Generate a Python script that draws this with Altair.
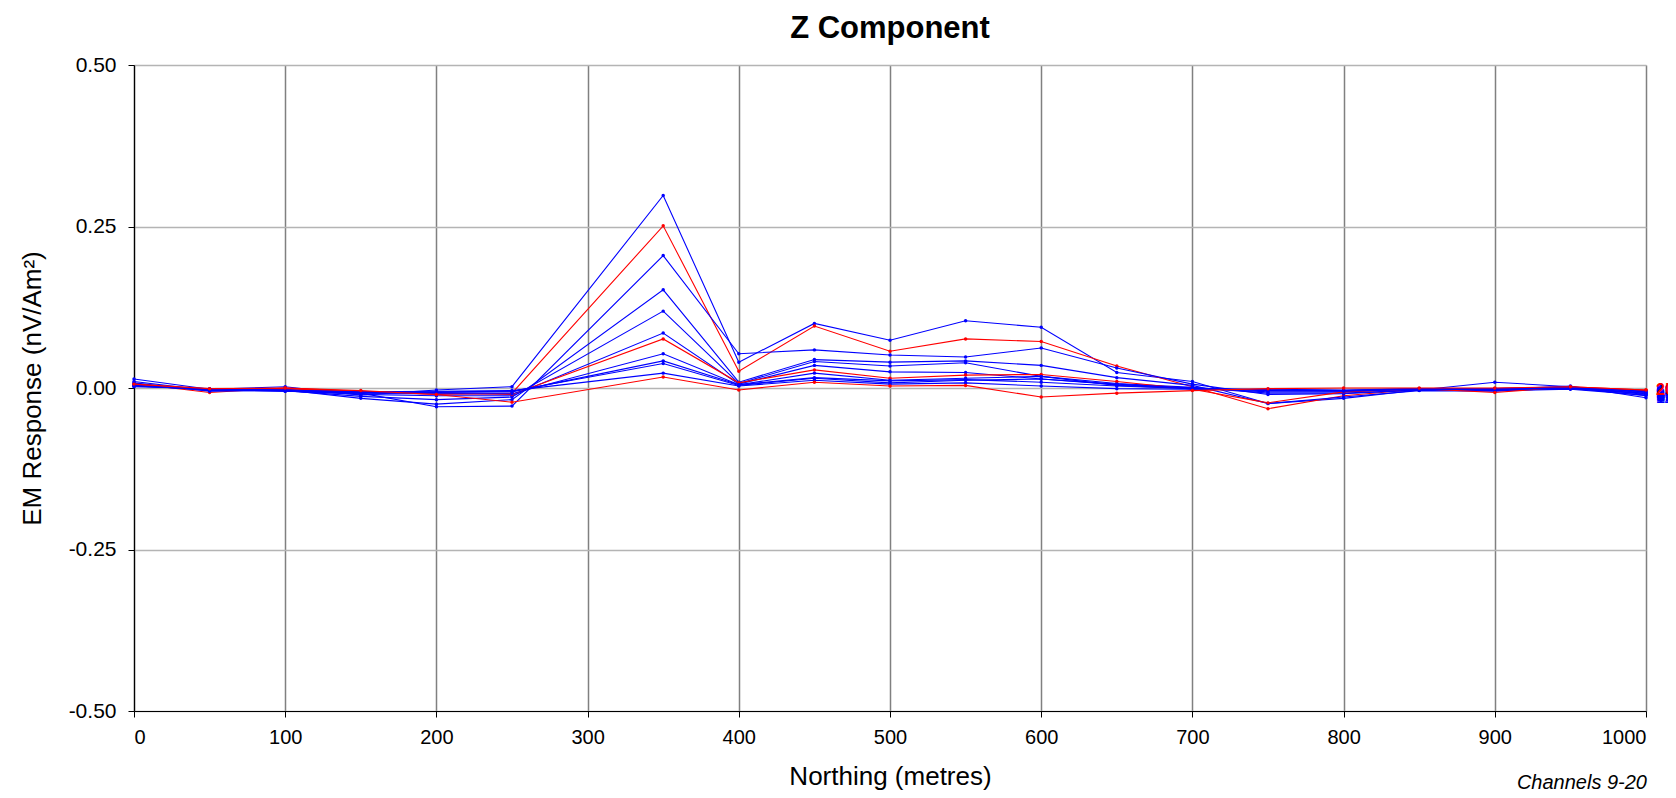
import altair as alt
import pandas as pd

northing = [0, 50, 100, 150, 200, 250, 350, 400, 450, 500, 550, 600, 650, 700, 750, 800, 850, 900, 950, 1000]

ch9 = [0.014, -0.002, 0.002, -0.011, -0.003, 0.002, 0.298, 0.040, 0.100, 0.074, 0.104, 0.094, 0.024, 0.010, -0.024, -0.016, -0.003, 0.009, 0.002, -0.010]
ch10 = [0.007, -0.007, 0.000, -0.005, -0.010, -0.008, 0.251, 0.026, 0.096, 0.057, 0.076, 0.072, 0.034, 0.002, -0.032, -0.012, -0.002, -0.001, 0.001, -0.004]
ch11 = [0.010, -0.004, -0.002, -0.008, -0.029, -0.028, 0.205, 0.053, 0.059, 0.051, 0.048, 0.062, 0.031, 0.006, -0.010, -0.009, -0.003, -0.002, 0.003, -0.015]
ch12 = [0.008, -0.005, -0.003, -0.016, -0.025, -0.018, 0.152, 0.009, 0.044, 0.040, 0.042, 0.035, 0.016, 0.004, -0.024, -0.014, -0.004, -0.005, 0.000, -0.012]
ch13 = [0.006, -0.004, -0.004, -0.013, -0.018, -0.014, 0.119, 0.007, 0.041, 0.034, 0.039, 0.018, 0.007, 0.001, -0.008, -0.008, -0.003, -0.004, -0.002, -0.011]
ch14 = [0.005, -0.003, -0.004, -0.010, -0.012, -0.012, 0.085, 0.006, 0.035, 0.025, 0.024, 0.014, 0.005, 0.000, -0.006, -0.006, -0.002, -0.003, -0.001, -0.009]
ch15 = [0.005, -0.002, -0.001, -0.006, -0.008, -0.010, 0.076, 0.008, 0.028, 0.015, 0.020, 0.021, 0.010, -0.002, -0.023, -0.006, -0.001, -0.007, 0.002, -0.003]
ch16 = [0.004, -0.003, -0.005, -0.009, -0.009, -0.009, 0.053, 0.005, 0.023, 0.012, 0.015, 0.018, 0.004, -0.001, -0.004, -0.005, -0.002, -0.002, -0.001, -0.008]
ch17 = [0.003, -0.002, -0.005, -0.008, -0.007, -0.006, 0.042, 0.005, 0.016, 0.011, 0.013, 0.009, 0.003, -0.001, -0.003, -0.004, -0.002, -0.002, 0.000, -0.007]
ch18 = [0.003, -0.002, -0.004, -0.007, -0.006, -0.005, 0.038, 0.004, 0.015, 0.008, 0.012, 0.014, 0.006, 0.000, -0.003, -0.004, -0.001, -0.001, 0.001, -0.006]
ch19 = [0.002, -0.001, -0.003, -0.006, -0.005, -0.004, 0.023, 0.003, 0.012, 0.006, 0.008, 0.003, -0.001, -0.002, -0.002, -0.003, -0.001, -0.001, 0.001, -0.005]
ch20 = [0.006, -0.001, 0.000, -0.004, -0.010, -0.022, 0.017, -0.003, 0.009, 0.003, 0.004, -0.014, -0.008, -0.004, -0.001, 0.000, 0.000, 0.000, 0.002, -0.003]

channels = ["9", "10", "11", "12", "13", "14", "15", "16", "17", "18", "19", "20"]
series = [ch9, ch10, ch11, ch12, ch13, ch14, ch15, ch16, ch17, ch18, ch19, ch20]
channel_colors = ["#0000ff", "#ff0000", "#0000ff", "#0000ff", "#0000ff", "#0000ff",
                  "#ff0000", "#0000ff", "#0000ff", "#0000ff", "#0000ff", "#ff0000"]

x_ticks = [0, 100, 200, 300, 400, 500, 600, 700, 800, 900, 1000]
y_ticks = [-0.5, -0.25, 0.0, 0.25, 0.5]

rows = []
for i, (ch, vals) in enumerate(zip(channels, series)):
    for n, v in zip(northing, vals):
        rows.append({"channel": ch, "order": i, "northing": n, "response": v})
df = pd.DataFrame(rows)

end_df = pd.DataFrame({
    "channel": channels,
    "order": list(range(len(channels))),
    "northing": [northing[-1]] * len(channels),
    "response": [s[-1] for s in series],
})

FONT = "Liberation Sans"

x_enc = alt.X(
    "northing:Q",
    scale=alt.Scale(domain=[0, 1000], nice=False),
    axis=alt.Axis(
        values=x_ticks, format="d", title="Northing (metres)",
        grid=True, gridColor="#808080", gridWidth=1.5,
        domainColor="#000000", domainWidth=1.2,
        tickColor="#000000", tickSize=6, labelPadding=10,
        labelFontSize=20, titleFontSize=26, titleFontWeight="normal",
        titlePadding=16, labelFont=FONT, titleFont=FONT,
        labelColor="#000000", titleColor="#000000",
    ),
)
y_enc = alt.Y(
    "response:Q",
    scale=alt.Scale(domain=[-0.5, 0.5], nice=False),
    axis=alt.Axis(
        values=y_ticks, title="EM Response (nV/Am²)",
        labelExpr="datum.value < 0 ? '-' + format(-datum.value, '.2f') : format(datum.value, '.2f')",
        grid=True, gridColor="#b4b4b4", gridWidth=1.5,
        domainColor="#000000", domainWidth=1.2,
        tickColor="#000000", tickSize=6, labelPadding=12,
        labelFontSize=21, titleFontSize=26, titleFontWeight="normal",
        titlePadding=23, labelFont=FONT, titleFont=FONT,
        labelColor="#000000", titleColor="#000000",
    ),
)
color_enc = alt.Color(
    "channel:N",
    scale=alt.Scale(domain=channels, range=channel_colors),
    legend=None,
)

lines = alt.Chart(df).mark_line(
    strokeWidth=1.1,
    point=alt.OverlayMarkDef(filled=True, size=12),
).encode(
    x=x_enc, y=y_enc, color=color_enc, order=alt.Order("order:Q"),
    detail="channel:N",
)

labels = alt.Chart(end_df).mark_text(
    align="left", baseline="middle", dx=10, fontSize=16, fontWeight="bold", font=FONT,
).encode(
    x="northing:Q", y="response:Q", color=color_enc, text="channel:N",
    order=alt.Order("order:Q"),
)

note = alt.Chart(pd.DataFrame({"t": ["Channels 9-20"]})).mark_text(
    align="right", baseline="middle", fontSize=20, fontStyle="italic", font=FONT, color="#000000",
).encode(
    x=alt.value(1513), y=alt.value(718), text="t:N",
)

chart = alt.layer(lines, labels, note).properties(
    width=1512,
    height=646,
    padding={"left": 126, "top": 57, "right": 22, "bottom": 79},
    autosize=alt.AutoSizeParams(type="none"),
    title=alt.TitleParams(
        "Z Component", fontSize=31, fontWeight="bold", font=FONT, color="#000000",
        anchor="middle", offset=9,
    ),
).configure_view(stroke=None).configure(background="#ffffff")

chart.save("out.html", embed_options={"renderer": "svg", "actions": False})
